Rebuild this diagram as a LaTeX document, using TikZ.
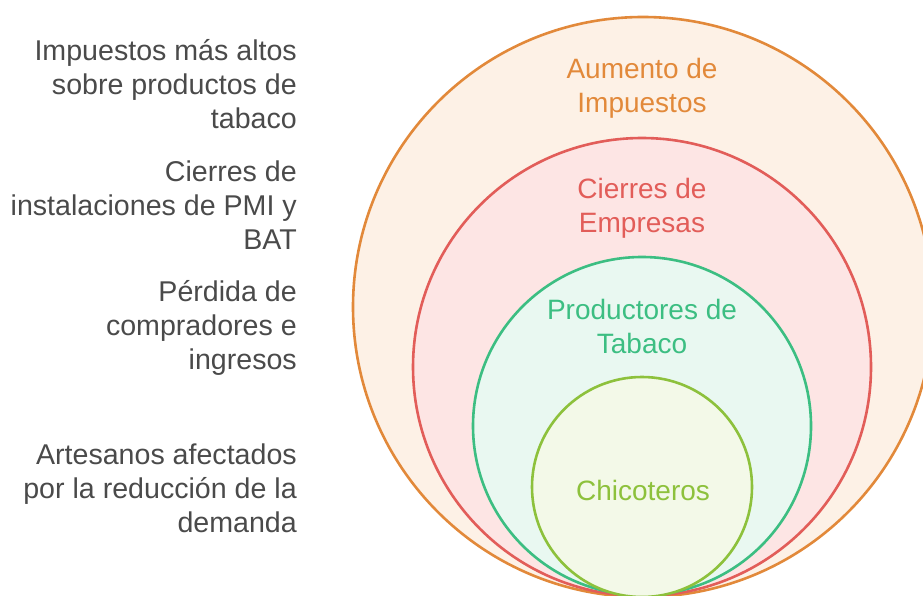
\documentclass[tikz,border=0pt]{standalone}
\usepackage{fontspec}
\setmainfont{Liberation Sans}

\definecolor{taxline}{HTML}{E2893A}
\definecolor{taxfill}{HTML}{FDF1E6}
\definecolor{closeline}{HTML}{E25D59}
\definecolor{closefill}{HTML}{FDE5E4}
\definecolor{growerline}{HTML}{3CBE82}
\definecolor{growerfill}{HTML}{E9F8F1}
\definecolor{chicline}{HTML}{8DC13C}
\definecolor{chicfill}{HTML}{F3F9E8}
\definecolor{notegray}{HTML}{4A4A4A}

\tikzset{
  ring/.style={line width=2.6pt},
  ringlabel/.style={anchor=base, align=center, inner sep=0pt,
    font=\fontsize{28}{34}\selectfont},
  sidenote/.style={anchor=base east, align=right, inner sep=0pt,
    text=notegray, font=\fontsize{28.6}{34}\selectfont}
}

\begin{document}
\begin{tikzpicture}[x=1pt,y=-1pt]
    % Frame of the picture
    \useasboundingbox (0,0) rectangle (923,596);
    \clip (0,0) rectangle (923,596);

    % Nested circles, all touching at the bottom
    \filldraw[ring, draw=taxline, fill=taxfill] (643,307) circle (290pt);
    \filldraw[ring, draw=closeline, fill=closefill] (642,367) circle (229pt);
    \filldraw[ring, draw=growerline, fill=growerfill] (642,426) circle (169pt);
    \filldraw[ring, draw=chicline, fill=chicfill] (642,487) circle (110pt);

    % Labels inside the circles (anchor = last line)
    \node[ringlabel, text=taxline] (tax) at (642,113) {Aumento de\\Impuestos};
    \node[ringlabel, text=closeline] (close) at (642,233) {Cierres de\\Empresas};
    \node[ringlabel, text=growerline] (grower) at (642,353) {Productores de\\Tabaco};
    \node[ringlabel, text=chicline] (chic) at (643,500) {Chicoteros};

    % Notes on the left
    \node[sidenote] (taxnote) at (297,129) {Impuestos más altos\\sobre productos de\\tabaco};
    \node[sidenote] (closenote) at (297,249) {Cierres de\\instalaciones de PMI y\\BAT};
    \node[sidenote] (growernote) at (297,369) {Pérdida de\\compradores e\\ingresos};
    \node[sidenote] (chicnote) at (297,532) {Artesanos afectados\\por la reducción de la\\demanda};
\end{tikzpicture}
\end{document}
